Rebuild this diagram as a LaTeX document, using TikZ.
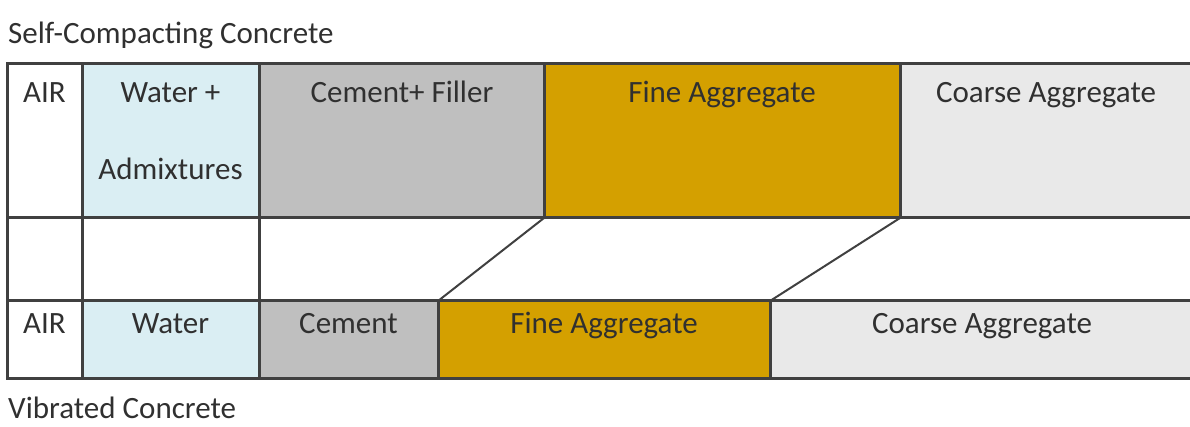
\documentclass[tikz,border=0pt]{standalone}
\usepackage{fontspec}
\setmainfont{Carlito}
\usetikzlibrary{positioning}
\definecolor{gridline}{HTML}{404040}
\definecolor{waterfill}{HTML}{DAEEF3}
\definecolor{cementfill}{HTML}{BFBFBF}
\definecolor{finefill}{HTML}{D4A000}
\definecolor{coarsefill}{HTML}{E9E9E9}
\definecolor{labeltext}{HTML}{303030}
\tikzset{
  cellbox/.style={rectangle, draw=gridline, line width=3pt, anchor=north west,
                  inner sep=0pt, outer sep=0pt},
  celltext/.style={inner sep=0pt, anchor=base, align=center, text=labeltext,
                   font=\fontsize{31}{77}\selectfont},
  shiftline/.style={draw=gridline, line width=2pt},
}
\begin{document}
\begin{tikzpicture}[
    x=1pt,
    y=-1pt,
  ]
    \useasboundingbox (0,0) rectangle (1190,427);

    % Row 0 (top): self-compacting mix
    \node[cellbox, minimum width=75pt,  minimum height=154pt]                  (airT)    at (7,64)   {};
    \node[cellbox, minimum width=177pt, minimum height=154pt, fill=waterfill]  (waterT)  at (82,64)  {};
    \node[cellbox, minimum width=285pt, minimum height=154pt, fill=cementfill] (cementT) at (259,64) {};
    \node[cellbox, minimum width=356pt, minimum height=154pt, fill=finefill]   (fineT)   at (544,64) {};
    \node[cellbox, minimum width=293pt, minimum height=154pt, fill=coarsefill] (coarseT) at (900,64) {};

    % Row 1: empty gap
    \node[cellbox, minimum width=75pt,  minimum height=83pt] (airM)   at (7,218)   {};
    \node[cellbox, minimum width=177pt, minimum height=83pt] (waterM) at (82,218)  {};
    \node[cellbox, minimum width=934pt, minimum height=83pt] (restM)  at (259,218) {};

    % Row 2 (bottom): vibrated mix
    \node[cellbox, minimum width=75pt,  minimum height=77pt]                  (airB)    at (7,301)   {};
    \node[cellbox, minimum width=177pt, minimum height=77pt, fill=waterfill]  (waterB)  at (82,301)  {};
    \node[cellbox, minimum width=179pt, minimum height=77pt, fill=cementfill] (cementB) at (259,301) {};
    \node[cellbox, minimum width=332pt, minimum height=77pt, fill=finefill]   (fineB)   at (438,301) {};
    \node[cellbox, minimum width=423pt, minimum height=77pt, fill=coarsefill] (coarseB) at (770,301) {};

    % Slanted lines: fine aggregate shift
    \draw[shiftline] (fineT.south west) -- (fineB.north west);
    \draw[shiftline] (fineT.south east) -- (fineB.north east);

    % Labels (base = last line)
    \node[celltext, anchor=base west] (sccTitle) at (8,44) {Self-Compacting Concrete};
    \node[celltext] (airTl)    at (44.5,103) {AIR};
    \node[celltext] (waterTl)  at (170.5,180) {Water +\\Admixtures};
    \node[celltext] (cementTl) at (402,103) {Cement+ Filler};
    \node[celltext] (fineTl)   at (722,103) {Fine Aggregate};
    \node[celltext] (coarseTl) at (1046,103) {Coarse Aggregate};

    \node[celltext] (airBl)    at (44.5,334) {AIR};
    \node[celltext] (waterBl)  at (170.5,334) {Water};
    \node[celltext] (cementBl) at (348.5,334) {Cement};
    \node[celltext] (fineBl)   at (604,334) {Fine Aggregate};
    \node[celltext] (coarseBl) at (982,334) {Coarse Aggregate};
    \node[celltext, anchor=base west] (vcTitle) at (8,418) {Vibrated Concrete};

  \end{tikzpicture}
\end{document}
